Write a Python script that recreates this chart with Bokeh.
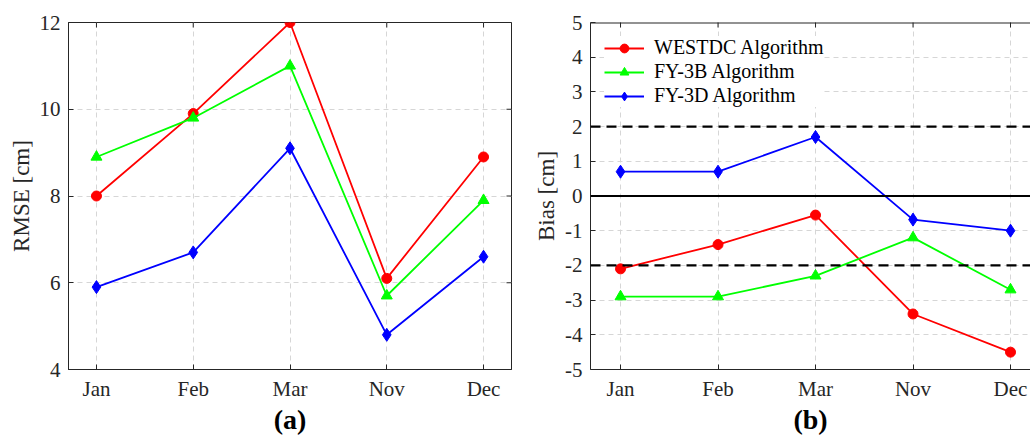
import math
from bokeh.plotting import figure
from bokeh.layouts import row
from bokeh.models import Range1d, FixedTicker, Span, Legend, LegendItem
from bokeh.embed import file_html
from bokeh.resources import INLINE

months = ["Jan", "Feb", "Mar", "Nov", "Dec"]
series_names = ["WESTDC Algorithm", "FY-3B Algorithm", "FY-3D Algorithm"]

rmse_westdc = [8.0, 9.9, 12.0, 6.1, 8.9]
rmse_fy3b = [8.9, 9.8, 11.0, 5.7, 7.9]
rmse_fy3d = [5.9, 6.7, 9.1, 4.8, 6.6]

bias_westdc = [-2.1, -1.4, -0.55, -3.4, -4.5]
bias_fy3b = [-2.9, -2.9, -2.3, -1.2, -2.7]
bias_fy3d = [0.7, 0.7, 1.7, -0.68, -1.0]

rmse_ticks = [4, 6, 8, 10, 12]
bias_ticks = [-5, -4, -3, -2, -1, 0, 1, 2, 3, 4, 5]
bias_limits = [-2, 2]
panel_tags = ["(a)", "(b)"]

FONT = "Liberation Serif"
TXT = "#262626"
colors = ["#FF0000", "#00FF00", "#0000FF"]
markers = ["circle", "triangle", "diamond"]
msizes = [10, 11, 13]

xs = list(range(len(months)))
xlabels = {i: m for i, m in enumerate(months)}


def style(p, yticks, tag):
    p.outline_line_color = TXT
    p.outline_line_width = 1
    p.xaxis.ticker = FixedTicker(ticks=xs)
    p.xaxis.major_label_overrides = xlabels
    p.yaxis.ticker = FixedTicker(ticks=yticks)
    p.yaxis.major_label_overrides = {v: str(v) for v in yticks}
    for ax in p.xaxis + p.yaxis:
        ax.major_tick_in = 5
        ax.major_tick_out = 0
        ax.minor_tick_in = 0
        ax.minor_tick_out = 0
        ax.axis_line_color = TXT
        ax.major_tick_line_color = TXT
        ax.major_label_text_font = FONT
        ax.major_label_text_font_size = "21px"
        ax.major_label_text_color = TXT
        ax.axis_label_text_font = FONT
        ax.axis_label_text_color = TXT
        ax.axis_label_text_font_style = "normal"
    p.yaxis.major_label_standoff = 8
    p.xaxis.major_label_standoff = 7
    p.yaxis.axis_label_text_font_size = "23px"
    p.yaxis.axis_label_standoff = 3
    p.xaxis.axis_label = tag
    p.xaxis.axis_label_text_font_size = "28px"
    p.xaxis.axis_label_text_font_style = "bold"
    p.xaxis.axis_label_text_color = "black"
    p.xaxis.axis_label_standoff = 0
    p.xgrid.ticker = FixedTicker(ticks=xs)
    p.ygrid.ticker = FixedTicker(ticks=yticks)
    for g in (p.xgrid[0], p.ygrid[0]):
        g.grid_line_color = "#d6d6d6"
        g.grid_line_dash = "5 4"
        g.grid_line_width = 1
    # inward ticks along the top edge (half of each dash is clipped by the frame)
    p.scatter(xs, [yticks[-1]] * len(xs), marker="dash", angle=math.pi / 2, size=10,
              line_color=TXT, line_width=1)


def draw(p, data):
    renderers = []
    for vals, c, m, s in zip(data, colors, markers, msizes):
        r1 = p.line(xs, vals, line_color=c, line_width=1.8)
        r2 = p.scatter(xs, vals, marker=m, size=s, fill_color=c, line_color=c)
        renderers.append([r1, r2])
    return renderers


# Left panel
p1 = figure(width=528, height=437, x_range=Range1d(-0.289, 4.289), y_range=Range1d(4, 12),
            output_backend="svg", toolbar_location=None,
            min_border_left=68, min_border_right=17, min_border_top=21, min_border_bottom=65)
style(p1, rmse_ticks, panel_tags[0])
p1.yaxis.axis_label = "RMSE [cm]"
draw(p1, [rmse_westdc, rmse_fy3b, rmse_fy3d])
# inward ticks along the right edge
p1.scatter([p1.x_range.end] * len(rmse_ticks), rmse_ticks, marker="dash", size=10,
           line_color=TXT, line_width=1)

# Right panel
p2 = figure(width=502, height=437, x_range=Range1d(-0.308, 4.205), y_range=Range1d(-5, 5),
            output_backend="svg", toolbar_location=None,
            min_border_left=62, min_border_right=0, min_border_top=22, min_border_bottom=66)
style(p2, bias_ticks, panel_tags[1])
p2.outline_line_color = None
p2.add_layout(Span(location=bias_ticks[-1], dimension="width", line_color=TXT, line_width=2))
p2.yaxis.axis_label = "Bias [cm]"
for lim in bias_limits:
    p2.add_layout(Span(location=lim, dimension="width", line_color="black",
                       line_width=2.2, line_dash="10 6"))
p2.add_layout(Span(location=0, dimension="width", line_color="black", line_width=2.2))
rs = draw(p2, [bias_westdc, bias_fy3b, bias_fy3d])

legend = Legend(items=[LegendItem(label=n, renderers=r) for n, r in zip(series_names, rs)],
                location="top_left", margin=14, padding=6, spacing=1,
                glyph_width=40, glyph_height=22, label_height=22, label_standoff=10,
                label_text_font=FONT, label_text_font_size="20px", label_text_color="black",
                border_line_color=None, background_fill_color="white", background_fill_alpha=1)
p2.add_layout(legend)

layout = row(p1, p2)
open("out.html", "w").write(file_html(layout, INLINE))
